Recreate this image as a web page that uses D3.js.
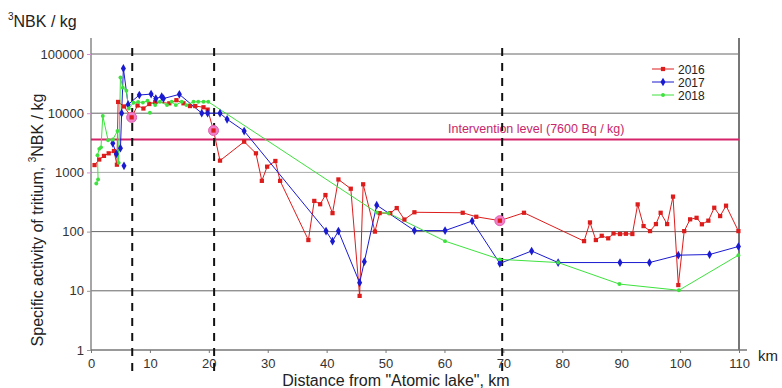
<!DOCTYPE html>
<html>
<head>
<meta charset="utf-8">
<script src="https://cdn.jsdelivr.net/npm/d3@7"></script>
<style>
  body { margin: 0; background: #fff; }
  text { font-family: "Liberation Sans Narrow", "Liberation Sans", Arial, sans-serif; }
</style>
</head>
<body>
<div id="chart"></div>
<script>
// distance (km), activity (NBK/kg)
const data2016 = [
  [0.6,1330],[1.4,1650],[2.2,1900],[3.0,2100],[3.9,2300],[4.4,1350],[4.6,15500],[5.6,13000],
  [6.9,8500],[7.9,13500],[8.9,12000],[9.9,14300],[10.9,15500],[13.3,14700],[14.5,16600],
  [15.7,14700],[16.8,13200],[17.7,13200],[19.1,12600],[19.8,11500],[20.8,5100],[21.9,1580],
  [26.0,3300],[28.0,2100],[29.0,720],[29.9,1250],[31.3,1560],[32.1,720],[36.9,72],[37.9,330],
  [38.9,290],[39.8,415],[41.0,205],[42.0,760],[44.1,530],[45.6,8.2],[46.2,630],[48.2,100],
  [49.0,205],[50.8,205],[51.9,250],[53.2,160],[54.9,212],[63.1,208],[65.4,178],[69.4,153],
  [73.5,208],[83.7,69],[84.7,143],[85.7,72],[86.7,85],[87.8,77],[88.7,93],[89.8,91],[90.8,92],
  [91.9,91],[92.8,288],[93.8,124],[94.9,102],[95.9,134],[96.7,208],[97.8,134],[98.8,390],
  [99.7,12.5],[100.7,102],[101.7,161],[102.8,171],[103.7,133],[104.8,153],[105.8,253],
  [106.8,183],[107.8,274],[109.9,102]
];
const data2017 = [
  [3.7,3100],[4.3,2050],[5.0,2570],[5.2,10000],[5.5,57000],[6.3,14000],[8.2,20300],[10.2,21000],
  [11.0,17700],[12.0,19000],[12.3,17700],[15.0,20800],[18.8,10000],[19.8,10000],[21.9,10000],
  [23.1,7900],[26.0,5000],[39.9,102],[41.0,69],[42.0,102],[45.6,13.7],[46.4,31],[48.5,280],
  [54.9,104],[60.1,104],[64.7,151],[69.4,29],[74.8,47],[79.3,30],[89.8,30],[94.8,30],
  [99.7,40],[105.0,41],[109.9,56]
];
const data2018 = [
  [0.9,650],[1.2,760],[1.1,1950],[1.4,2500],[1.7,2650],[2.0,9000],[2.9,3500],[3.7,3600],
  [4.5,5000],[4.7,1450],[5.0,40000],[5.4,27000],[6.0,24000],[6.4,12000],[7.2,15000],[8.0,15500],
  [8.8,15100],[9.6,16300],[10.9,13700],[11.7,15600],[12.9,13700],[13.7,15600],[14.4,13700],
  [15.4,15600],[16.2,13700],[17.4,15600],[18.2,15600],[19.1,15600],[19.9,15600],[48.5,210],
  [50.5,205],[60.1,69],[69.4,34],[79.3,30],[89.7,13],[99.8,10.2],[109.9,40]
];
// single markers not joined to a line
const loose2017 = [[5.6,1290]];
const loose2018 = [[10.0,10200]];
// highlighted 2016 samples
const highlighted = [[6.9,8500],[20.8,5100],[69.4,153]];

const xTicks = [0,10,20,30,40,50,60,70,80,90,100,110];
const yTicks = [1,10,100,1000,10000,100000];
const dashedKm = [7.0,20.9,69.8];
const interventionLevel = 3600;
const interventionLabel = "Intervention level (7600 Bq / kg)";
const seriesNames = ["2016","2017","2018"];

const width = 782, height = 388;
const plotLeft = 91, plotRight = 739, plotTop = 38, plotBottom = 350;

const svg = d3.select("#chart").append("svg")
  .attr("width", width)
  .attr("height", height);

const x = d3.scaleLinear().domain([0,110]).range([plotLeft,plotRight]);
const y = d3.scaleLog().domain([1,100000]).range([plotBottom,54]);

// grid lines
svg.selectAll(".grid")
  .data(yTicks.slice(1))
  .enter()
  .append("line")
  .attr("x1", plotLeft).attr("x2", plotRight)
  .attr("y1", d => y(d)).attr("y2", d => y(d))
  .attr("stroke", d => d === 1000 ? "#aaa" : "#666")
  .attr("stroke-width", 1);

// frame
svg.append("line").attr("x1", plotLeft).attr("x2", plotLeft).attr("y1", plotTop).attr("y2", plotBottom)
  .attr("stroke", "#888").attr("stroke-width", 1.5);
svg.append("line").attr("x1", plotRight).attr("x2", plotRight).attr("y1", plotTop).attr("y2", plotBottom)
  .attr("stroke", "#777").attr("stroke-width", 2);

// x axis
const xAxis = svg.append("g")
  .attr("transform", "translate(0," + plotBottom + ")")
  .call(d3.axisBottom(x).tickValues(xTicks).tickSize(3).tickSizeOuter(0));
xAxis.select(".domain").attr("stroke", "#777").attr("stroke-width", 1.5).attr("d", "M" + plotLeft + ",0H" + (plotRight + 8));
xAxis.selectAll(".tick line").attr("stroke", "#777");
xAxis.selectAll("text").attr("font-size", 13).attr("fill", "#333").attr("dy", "0.9em");

// y axis
const yAxis = svg.append("g")
  .attr("transform", "translate(" + plotLeft + ",0)")
  .call(d3.axisLeft(y).tickValues(yTicks).tickFormat(d3.format("d")).tickSize(4));
yAxis.select(".domain").remove();
yAxis.selectAll(".tick line").attr("stroke", (d, i) => i >= 3 ? "#d88ad8" : "#999");
yAxis.selectAll("text").attr("font-size", 13).attr("fill", "#333").attr("x", -7);

// intervention level
svg.append("line")
  .attr("x1", plotLeft).attr("x2", plotRight)
  .attr("y1", y(interventionLevel)).attr("y2", y(interventionLevel))
  .attr("stroke", "#d6246a").attr("stroke-width", 2);
svg.append("text")
  .attr("x", 448).attr("y", y(interventionLevel) - 6)
  .attr("font-size", 12.5).attr("fill", "#c8266a")
  .style("font-family", "'Liberation Sans', Arial, sans-serif")
  .text(interventionLabel);

// dashed verticals
svg.selectAll(".dash")
  .data(dashedKm)
  .enter()
  .append("line")
  .attr("x1", d => x(d)).attr("x2", d => x(d))
  .attr("y1", 48).attr("y2", 372)
  .attr("stroke", "#111").attr("stroke-width", 2)
  .attr("stroke-dasharray", "8,7");

// series
const series = [
  { name: seriesNames[0], data: data2016, color: "#dd1c1c", shape: d3.symbolSquare, size: 18 },
  { name: seriesNames[1], data: data2017, color: "#1a1ad0", shape: d3.symbolDiamond, size: 22 },
  { name: seriesNames[2], data: data2018, color: "#3ee23e", shape: d3.symbolCircle, size: 12 }
];
const line = d3.line().x(d => x(d[0])).y(d => y(d[1]));

series.forEach(s => {
  svg.append("path")
    .datum(s.data)
    .attr("d", line)
    .attr("fill", "none")
    .attr("stroke", s.color)
    .attr("stroke-width", 1);
});

// highlighted circles under red markers
svg.selectAll(".hl")
  .data(highlighted)
  .enter()
  .append("circle")
  .attr("cx", d => x(d[0])).attr("cy", d => y(d[1]))
  .attr("r", 5)
  .attr("fill", "#f080c8")
  .attr("stroke", "#e060b0");

const drawMarkers = (pts, s) => {
  svg.append("g").selectAll("path")
    .data(pts)
    .enter()
    .append("path")
    .attr("transform", d => "translate(" + x(d[0]) + "," + y(d[1]) + ")")
    .attr("d", d3.symbol().type(s.shape).size(s.size))
    .attr("fill", s.color);
};
series.forEach(s => drawMarkers(s.data, s));
drawMarkers(loose2017, series[1]);
drawMarkers(loose2018, series[2]);

// legend
const legend = svg.append("g").attr("transform", "translate(652,69)");
series.forEach((s, i) => {
  const g = legend.append("g").attr("transform", "translate(0," + (i * 13) + ")");
  g.append("line").attr("x1", 0).attr("x2", 22).attr("stroke", s.color).attr("stroke-width", 1);
  g.append("path").attr("transform", "translate(11,0)")
    .attr("d", d3.symbol().type(s.shape).size(s.size)).attr("fill", s.color);
  g.append("text").attr("x", 26).attr("y", 4.5).attr("font-size", 12).attr("fill", "#222")
    .style("font-family", "'Liberation Sans', Arial, sans-serif")
    .text(s.name);
});

// titles
svg.append("text").attr("x", 758).attr("y", 361).attr("font-size", 15).attr("fill", "#222")
  .style("font-family", "'Liberation Sans', Arial, sans-serif").text("km");
svg.append("text").attr("x", 396).attr("y", 386).attr("text-anchor", "middle")
  .attr("font-size", 16).attr("fill", "#222").text("Distance from \"Atomic lake\", km");

const yTitle = svg.append("text")
  .attr("transform", "translate(43,220) rotate(-90)")
  .attr("text-anchor", "middle").attr("font-size", 16).attr("fill", "#222");
yTitle.append("tspan").text("Specific activity of tritium, ");
yTitle.append("tspan").attr("font-size", 10).attr("dy", -7).text("3");
yTitle.append("tspan").attr("dy", 7).text("NBK / kg");

const topLabel = svg.append("text").attr("x", 8).attr("y", 27).attr("font-size", 16).attr("fill", "#222")
  .style("font-family", "'Liberation Sans', Arial, sans-serif");
topLabel.append("tspan").attr("font-size", 10).attr("dy", -7).text("3");
topLabel.append("tspan").attr("dy", 7).text("NBK / kg");
</script>
</body>
</html>
